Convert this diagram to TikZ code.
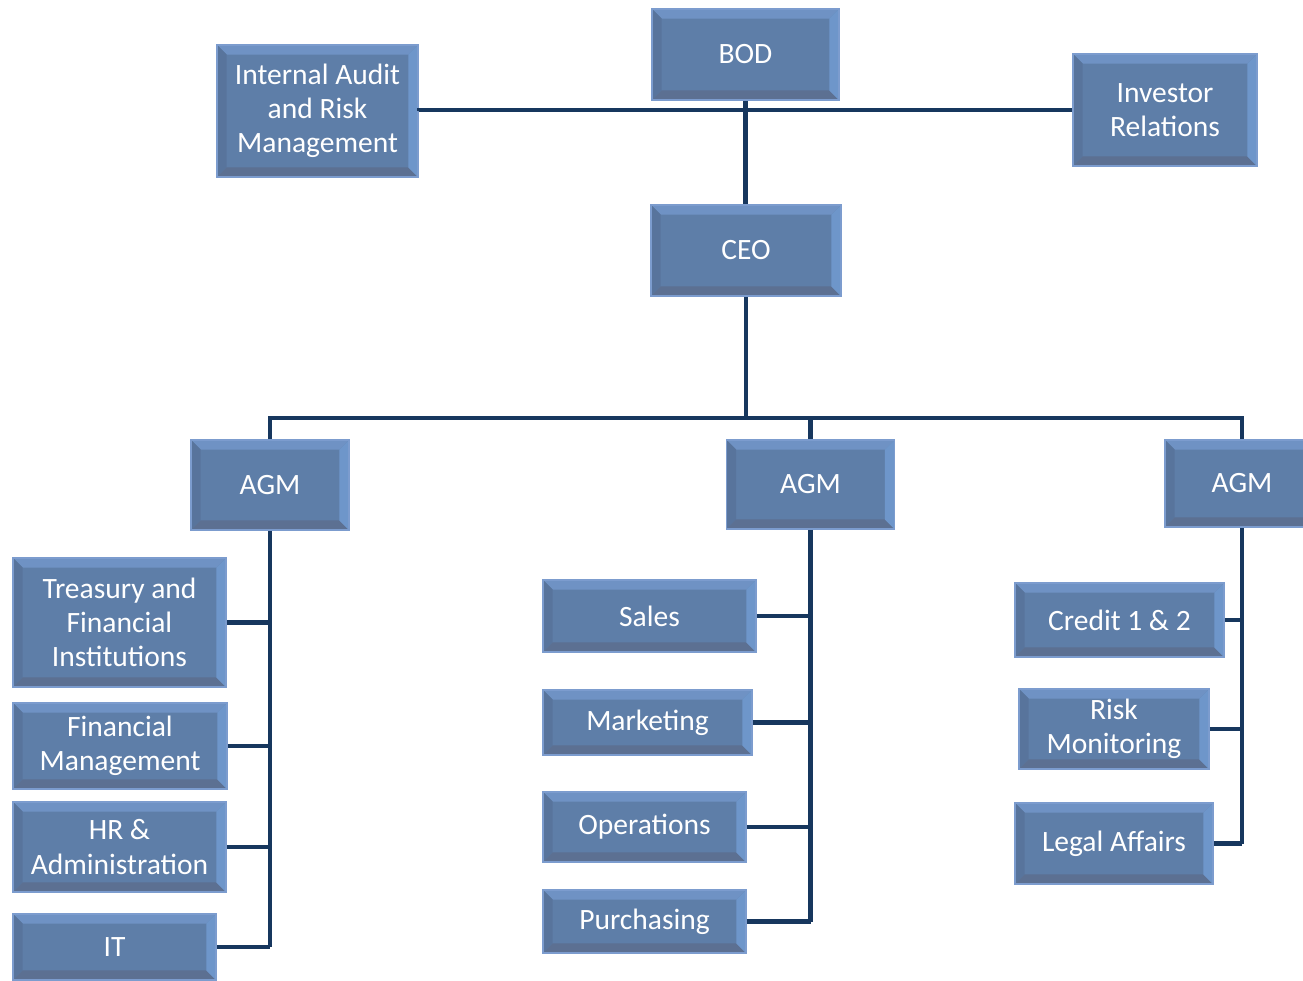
\documentclass[tikz,border=0pt]{standalone}
\usepackage{fontspec}
\setmainfont{Carlito}
\usepackage{tikz}
\usetikzlibrary{shapes}
\usepackage{xcolor}
\definecolor{boxface}{RGB}{94,126,168}
\definecolor{boxline}{RGB}{124,156,206}
\definecolor{bevtop}{RGB}{111,146,196}
\definecolor{bevleft}{RGB}{88,116,156}
\definecolor{bevbottom}{RGB}{92,112,146}
\definecolor{bevright}{RGB}{110,150,202}
\definecolor{linkcol}{RGB}{23,55,94}
\newcommand{\bv}{5.5pt}

\begin{document}
\begin{tikzpicture}[x=0.02cm, y=-0.02cm]
	\clip (0,0) rectangle (1303,981);
	\tikzstyle{unit}=[draw=boxline, line width=1.1pt, fill=boxface, text=white, align=center, inner sep=0pt,
		font=\fontsize{16.8}{19.5}\selectfont,
		path picture={
			\fill[bevtop] (path picture bounding box.north west) -- (path picture bounding box.north east) -- ([xshift=-\bv,yshift=-\bv]path picture bounding box.north east) -- ([xshift=\bv,yshift=-\bv]path picture bounding box.north west) -- cycle;
			\fill[bevleft] (path picture bounding box.north west) -- (path picture bounding box.south west) -- ([xshift=\bv,yshift=\bv]path picture bounding box.south west) -- ([xshift=\bv,yshift=-\bv]path picture bounding box.north west) -- cycle;
			\fill[bevbottom] (path picture bounding box.south west) -- (path picture bounding box.south east) -- ([xshift=-\bv,yshift=\bv]path picture bounding box.south east) -- ([xshift=\bv,yshift=\bv]path picture bounding box.south west) -- cycle;
			\fill[bevright] (path picture bounding box.north east) -- (path picture bounding box.south east) -- ([xshift=-\bv,yshift=\bv]path picture bounding box.south east) -- ([xshift=-\bv,yshift=-\bv]path picture bounding box.north east) -- cycle;
		}]
	\tikzstyle{link}=[draw=linkcol, line width=2.3pt]
	% top level
	\node[unit, minimum width=3.74cm, minimum height=1.82cm] (bod) at (745.5,54.5) {BOD};
	\node[unit, minimum width=4.02cm, minimum height=2.64cm] (audit) at (317.5,111) {Internal Audit\\and Risk\\Management};
	\node[unit, minimum width=3.68cm, minimum height=2.24cm] (investor) at (1165,110) {Investor\\Relations};
	\node[unit, minimum width=3.80cm, minimum height=1.82cm] (ceo) at (746,250.5) {CEO};
	\coordinate (bus) at (746,418);
	% AGMs
	\node[unit, minimum width=3.16cm, minimum height=1.80cm] (agm1) at (270,485) {AGM};
	\node[unit, minimum width=3.36cm, minimum height=1.78cm] (agm2) at (810.5,484.5) {AGM};
	\node[unit, minimum width=3.08cm, minimum height=1.74cm] (agm3) at (1242,483.5) {AGM};
	% left branch
	\node[unit, minimum width=4.26cm, minimum height=2.58cm] (treasury) at (119.5,622.5) {Treasury and\\Financial\\Institutions};
	\node[unit, minimum width=4.28cm, minimum height=1.72cm] (finman) at (120,746) {Financial\\Management};
	\node[unit, minimum width=4.26cm, minimum height=1.80cm] (hr) at (119.5,847) {HR \&\\Administration};
	\node[unit, minimum width=4.06cm, minimum height=1.32cm] (it) at (114.5,947) {IT};
	% middle branch
	\node[unit, minimum width=4.26cm, minimum height=1.44cm] (sales) at (649.5,616) {Sales};
	\node[unit, minimum width=4.18cm, minimum height=1.30cm] (marketing) at (647.5,722.5) {Marketing};
	\node[unit, minimum width=4.06cm, minimum height=1.40cm] (operations) at (644.5,827) {Operations};
	\node[unit, minimum width=4.06cm, minimum height=1.26cm] (purchasing) at (644.5,921.5) {Purchasing};
	% right branch
	\node[unit, minimum width=4.18cm, minimum height=1.48cm] (credit) at (1119.5,620) {Credit 1 \& 2};
	\node[unit, minimum width=3.80cm, minimum height=1.60cm] (risk) at (1114,729) {Risk\\Monitoring};
	\node[unit, minimum width=3.96cm, minimum height=1.62cm] (legal) at (1114,843.5) {Legal Affairs};
	% connectors
	\draw[link] (audit.east) -- (investor.west -| audit.east) -- (investor.west);
	\draw[link] (bod.south) -- (ceo.north -| bod.south);
	\draw[link] (ceo) -- (bus);
	\draw[link] (agm1.north) |- (bus) -| (agm3.north);
	\draw[link] (bus) -| (agm2.north);
	\draw[link] (agm1.south) -- (agm1.south |- it.east);
	\foreach \n in {treasury,finman,hr,it}
		\draw[link] (\n.east) -- (\n.east -| agm1.south);
	\draw[link] (agm2.south) -- (agm2.south |- purchasing.east);
	\foreach \n in {sales,marketing,operations,purchasing}
		\draw[link] (\n.east) -- (\n.east -| agm2.south);
	\draw[link] (agm3.south) -- (agm3.south |- legal.east);
	\foreach \n in {credit,risk,legal}
		\draw[link] (\n.east) -- (\n.east -| agm3.south);
\end{tikzpicture}
\end{document}
